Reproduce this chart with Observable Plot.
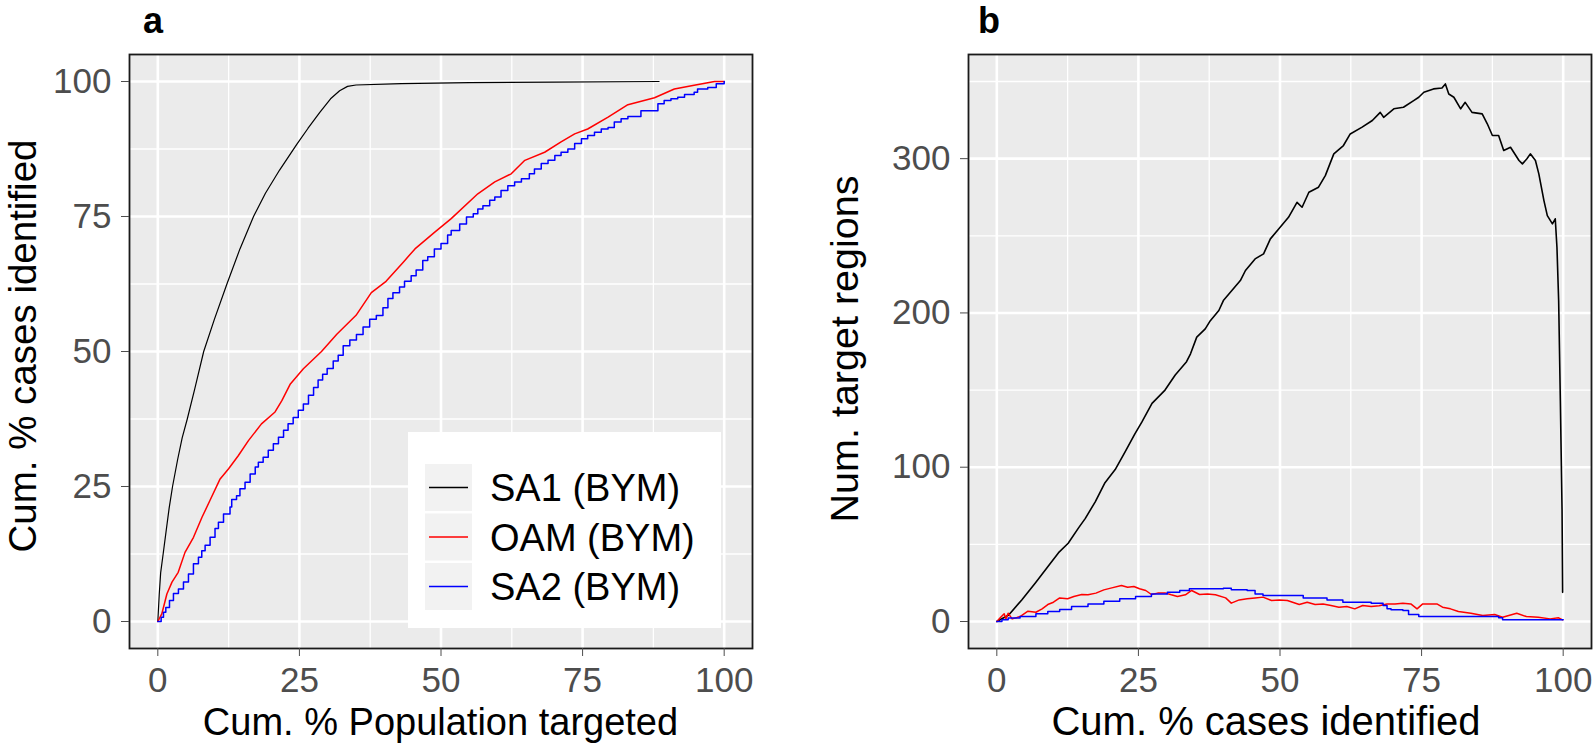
<!DOCTYPE html>
<html>
<head>
<meta charset="utf-8">
<script src="https://cdn.jsdelivr.net/npm/d3@7"></script>
<script src="https://cdn.jsdelivr.net/npm/@observablehq/plot@0.6"></script>
<style>
  html, body { margin: 0; padding: 0; background: #fff; }
  #wrap { position: relative; width: 1593px; height: 747px; overflow: hidden; font-family: "Liberation Sans", Arial, sans-serif; }
  .panel { position: absolute; top: 0; }
</style>
</head>
<body>
<div id="wrap"></div>
<script>
// ---------- data ----------
const seriesNames = ["SA1 (BYM)", "OAM (BYM)", "SA2 (BYM)"];
const seriesColors = ["black", "red", "blue"];
const panelTags = ["a", "b"];

const xMajor = [0, 25, 50, 75, 100];
const xMinor = [12.5, 37.5, 62.5, 87.5];
const aYMajor = [0, 25, 50, 75, 100];
const aYMinor = [12.5, 37.5, 62.5, 87.5];
const bYMajor = [0, 100, 200, 300];
const bYMinor = [50, 150, 250, 350];

const aXTitle = "Cum. % Population targeted";
const aYTitle = "Cum. % cases identified";
const bXTitle = "Cum. % cases identified";
const bYTitle = "Num. target regions";

// Panel a: cumulative % cases vs cumulative % population
const aSA1 = [[0,0],[0.25,5],[0.5,9],[0.94,12.5],[1.5,17],[2,21],[2.6,25],[3.5,30],[4.3,34],[5.2,37.5],[6.5,43],[8.1,50],[10,56],[12.2,62.5],[14.5,69],[16.9,75],[19,79.3],[21.5,83.6],[24.5,88.3],[26.5,91.3],[28.6,94.3],[30.5,96.8],[32.1,98.3],[33.5,99.1],[35,99.35],[43,99.6],[55,99.8],[70,99.9],[88.5,100]];
const aOAM = [[0,0],[0.1,0.2],[0.7,1.4],[1.6,5.1],[2.5,7.3],[3.6,9.1],[4.8,12.8],[6.3,15.6],[7.8,19.3],[9.2,22.4],[11,26.4],[12.5,28.3],[14.2,30.7],[16,33.5],[18.3,36.6],[20.7,38.8],[21.9,40.9],[23.4,44],[25.7,46.8],[28.9,50],[31.6,53.2],[35,56.7],[37.7,60.9],[40.3,63],[43.3,66.5],[45.4,69],[48.9,72.1],[51.8,74.6],[56.5,79.2],[59.5,81.4],[62.4,82.9],[64.8,85.4],[68.3,86.9],[71.2,88.8],[73.6,90.3],[75.9,91.2],[79.5,93.4],[83,95.7],[87.7,97],[91.2,98.6],[94.7,99.3],[98.3,100],[100,100]];
const aSA2 = [[0,0],[0.59,0.8],[1.0,1.7],[1.41,2.6],[2.06,3.9],[2.76,5.2],[3.64,6.0],[4.53,7.3],[5.41,8.8],[6.29,10.7],[7.17,11.9],[7.76,13.1],[8.35,14.1],[9.23,15.6],[10.1,17.2],[10.7,18.4],[11.6,19.9],[12.75,21.2],[13.05,22.6],[13.9,23.3],[14.5,24.6],[15.4,25.8],[16.3,27.3],[17.2,28.6],[17.75,29.5],[18.6,30.4],[19.5,31.7],[20.4,32.9],[21.3,34.1],[22.2,35.4],[23.0,36.6],[23.9,37.8],[24.8,39.1],[25.7,40.3],[26.6,41.92],[27.5,43.33],[28.3,44.73],[29.1,45.79],[29.9,46.84],[30.97,48.24],[31.85,49.3],[32.73,51.05],[33.9,52.11],[35.07,53.16],[36.24,54.56],[37.41,55.97],[38.58,56.67],[39.75,58.08],[40.63,59.83],[41.51,60.88],[42.68,61.94],[43.56,62.99],[44.73,64.04],[45.61,65.1],[46.78,66.85],[47.66,67.56],[48.83,68.96],[50.0,70.01],[51.17,71.56],[51.8,72.4],[53.3,73.6],[54.5,74.9],[55.7,75.5],[56.5,76.4],[57.4,77.0],[58.6,78.0],[59.5,78.6],[60.6,79.8],[61.8,80.7],[63.0,81.4],[64.2,82.0],[65.6,82.9],[66.5,83.8],[67.7,84.8],[68.9,85.4],[70.1,86.3],[71.2,86.9],[72.4,87.5],[73.6,88.5],[74.8,89.4],[75.9,90.0],[77.1,90.6],[78.3,91.2],[79.5,91.5],[80.6,92.5],[81.8,93.1],[83.0,93.5],[85.3,94.6],[88.3,95.9],[89.4,96.5],[90.6,96.8],[91.8,97.1],[93.0,97.6],[94.7,98.0],[95.3,98.6],[97.1,98.9],[98.6,99.6],[100,100]];

// Panel b: number of target regions vs cumulative % cases
const bSA1 = [[0,0],[2.1,4.2],[4.4,14],[6.8,25],[9.1,36],[10.9,44.6],[12.6,50.7],[14.4,60.5],[15.6,66.7],[17.4,77.7],[19.1,90],[20.9,98.5],[22.6,109.6],[24.4,121.8],[25.6,129.2],[27.4,141.4],[29.7,150],[31.5,159.8],[33.5,168.4],[34.2,173.5],[35.3,184.3],[36.8,189.7],[37.7,195],[39.2,201.6],[40.0,208],[41.5,214.5],[43.0,221],[43.9,227.5],[45.6,235],[47.1,238.3],[48.3,248],[49.8,254.5],[51.5,262],[53,271.7],[53.9,268.5],[55.1,278.2],[56.8,281.5],[58,289],[59.5,303.1],[61.2,308.5],[62.4,316],[64.5,320.4],[66.3,324.7],[67.7,330],[68.3,326.8],[70.1,332.3],[71.8,333.3],[73.6,337.6],[74.5,339.8],[75.4,343],[77.1,345.2],[78.6,345.8],[79.2,348.4],[79.8,341.9],[80.7,339.8],[81.9,332.3],[82.7,336.5],[83.9,330],[85.7,329],[86.6,322.6],[87.5,315],[88.6,315],[89.5,305.3],[90.7,307.4],[92.2,298.8],[92.8,296.6],[93.6,299.9],[94.2,303.1],[95.1,298.8],[95.7,290.1],[96.6,272.8],[97.2,263.1],[98.1,257.7],[98.6,261],[98.9,242.6],[99.2,208],[99.5,143.2],[99.8,72.8],[99.9,18.9]];
const bOAM = [[0,0],[0.6,2.4],[1.3,5],[1.6,1.7],[2,5.4],[2.7,1.7],[4.1,3.2],[5.5,6.7],[6.9,6],[8,8.2],[9,11],[10,12.5],[11.1,15.3],[12.5,14.7],[13.6,16.2],[15,17.5],[16.1,17.3],[17.5,18.4],[18.9,20.5],[20.3,21.8],[22,23.3],[23.1,22.2],[24.2,22.7],[25.2,21.2],[26.3,20.1],[27.3,17.5],[28.4,18.4],[29.8,18.4],[30.8,17.3],[31.9,16.2],[33.3,17.3],[34.4,20.1],[35.8,17.5],[37.2,17.9],[38.6,17.3],[40.4,15.3],[41.4,11.9],[42.8,14],[44.2,14.7],[45.6,15.3],[47,15.8],[48.5,13.6],[49.9,14],[51.3,13.6],[53.4,11],[54.8,12.5],[56.2,11],[57.6,11.4],[59,10.4],[60.4,9.3],[61.8,9.7],[63.2,8.2],[64.6,10.4],[66.1,9.7],[67.5,10.2],[68.9,11.4],[70.3,11.4],[71.7,11.9],[73.1,11.4],[74.2,8.2],[75.2,11.4],[76.6,11.4],[77.7,11.4],[78.7,9.3],[80.1,8.2],[81.5,6.5],[83.7,5.4],[85.8,3.9],[87.9,4.5],[89.3,2.8],[91.8,5.4],[93.5,3.2],[95.6,2.8],[97.7,1.7],[99.2,2.4],[99.9,1.1]];
const bSA2 = [[0,0],[0.9,1.1],[2,2.2],[4.1,3.2],[6.9,5],[9,6.5],[11.1,7.8],[13.2,9.7],[16.1,11.4],[18.9,13.2],[21.7,14.7],[24.5,16.2],[27.3,17.9],[30.1,19],[32.3,20.1],[34,21.2],[37.2,21.2],[40,21.6],[41.4,20.5],[44.2,20.1],[45.6,17.9],[47,16.8],[52,16.8],[54.1,15.3],[58.3,14],[61.1,12.5],[66.1,11.9],[68.2,10.4],[68.9,8.2],[69.6,7.6],[71.7,7.1],[72.7,4.5],[74.5,3.2],[77.3,3.2],[82.3,3.2],[88.6,2.4],[89.3,1.1],[100,1.1]];

// ---------- drawing ----------
const FONT = '"Liberation Sans", Arial, sans-serif';
const wrap = document.getElementById("wrap");

function gridMarks(yMinor, yMajor) {
  return [
    Plot.frame({fill: "#EBEBEB"}),
    Plot.ruleX(xMinor, {stroke: "white", strokeWidth: 1.3}),
    Plot.ruleY(yMinor, {stroke: "white", strokeWidth: 1.3}),
    Plot.ruleX(xMajor, {stroke: "white", strokeWidth: 2.6}),
    Plot.ruleY(yMajor, {stroke: "white", strokeWidth: 2.6})
  ];
}
function axisMarks(yMajor) {
  return [
    Plot.frame({stroke: "#1a1a1a", strokeWidth: 1.8}),
    Plot.axisX({ticks: xMajor, tickSize: 8, tickPadding: 11, fontSize: 35, color: "#4D4D4D", label: null}),
    Plot.axisY({ticks: yMajor, tickSize: 8, tickPadding: 10, fontSize: 35, color: "#4D4D4D", label: null})
  ];
}
const lineOpts = (stroke, curve, w = 1.5) => ({x: d => d[0], y: d => d[1], stroke, strokeWidth: w, curve});

// Panel a
const plotA = Plot.plot({
  width: 790, height: 747,
  marginLeft: 129, marginRight: 38, marginTop: 54, marginBottom: 99,
  x: {domain: [-5, 105]},
  y: {domain: [-5, 105]},
  style: {fontFamily: FONT, background: "transparent", overflow: "visible"},
  marks: [
    ...gridMarks(aYMinor, aYMajor),
    Plot.line(aSA1, lineOpts(seriesColors[0], "linear", 1.2)),
    Plot.line(aOAM, lineOpts(seriesColors[1], "linear")),
    Plot.line(aSA2, lineOpts(seriesColors[2], "step-after")),
    ...axisMarks(aYMajor)
  ]
});
// Panel b
const plotB = Plot.plot({
  width: 803, height: 747,
  marginLeft: 178, marginRight: 2, marginTop: 54, marginBottom: 99,
  x: {domain: [-5, 105]},
  y: {domain: [-17.5, 367.5]},
  style: {fontFamily: FONT, background: "transparent", overflow: "visible"},
  marks: [
    ...gridMarks(bYMinor, bYMajor),
    Plot.line(bSA1, lineOpts(seriesColors[0], "linear", 1.6)),
    Plot.line(bOAM, lineOpts(seriesColors[1], "linear")),
    Plot.line(bSA2, lineOpts(seriesColors[2], "step-after")),
    ...axisMarks(bYMajor)
  ]
});

const divA = document.createElement("div"); divA.className = "panel"; divA.style.left = "0px"; divA.appendChild(plotA);
const divB = document.createElement("div"); divB.className = "panel"; divB.style.left = "790px"; divB.appendChild(plotB);
wrap.appendChild(divA); wrap.appendChild(divB);

function addText(svg, txt, x, y, opts = {}) {
  return d3.select(svg).append("text")
    .attr("x", 0).attr("y", 0)
    .attr("transform", `translate(${x},${y})` + (opts.rotate ? ` rotate(${opts.rotate})` : ""))
    .attr("text-anchor", opts.anchor || "middle")
    .attr("font-size", opts.size || 38)
    .attr("font-weight", opts.weight || "normal")
    .attr("fill", opts.fill || "black")
    .style("font-family", FONT)
    .text(txt);
}
// panel tags
addText(plotA, panelTags[0], 143, 33, {anchor: "start", size: 36, weight: "bold"});
addText(plotB, panelTags[1], 978 - 790, 33, {anchor: "start", size: 36, weight: "bold"});
// axis titles
addText(plotA, aXTitle, 440.5, 735, {size: 38});
addText(plotA, aYTitle, 35.5, 346, {size: 38.5, rotate: -90});
addText(plotB, bXTitle, 1266 - 790, 735, {size: 40});
addText(plotB, bYTitle, 858 - 790, 349, {size: 39.5, rotate: -90});

// legend in panel a
const lg = d3.select(plotA).append("g");
lg.append("rect").attr("x", 408).attr("y", 432).attr("width", 313).attr("height", 196).attr("fill", "white");
seriesNames.forEach((name, i) => {
  const top = 464 + i * 49.5;
  lg.append("rect").attr("x", 425).attr("y", top).attr("width", 47).attr("height", 47).attr("fill", "#F2F2F2");
  lg.append("line").attr("x1", 429).attr("x2", 468).attr("y1", top + 23.5).attr("y2", top + 23.5)
    .attr("stroke", seriesColors[i]).attr("stroke-width", 1.5);
  lg.append("text").attr("x", 490).attr("y", top + 37).attr("text-anchor", "start")
    .attr("font-size", 38).attr("fill", "black")
    .style("font-family", FONT).text(name);
});
</script>
</body>
</html>
